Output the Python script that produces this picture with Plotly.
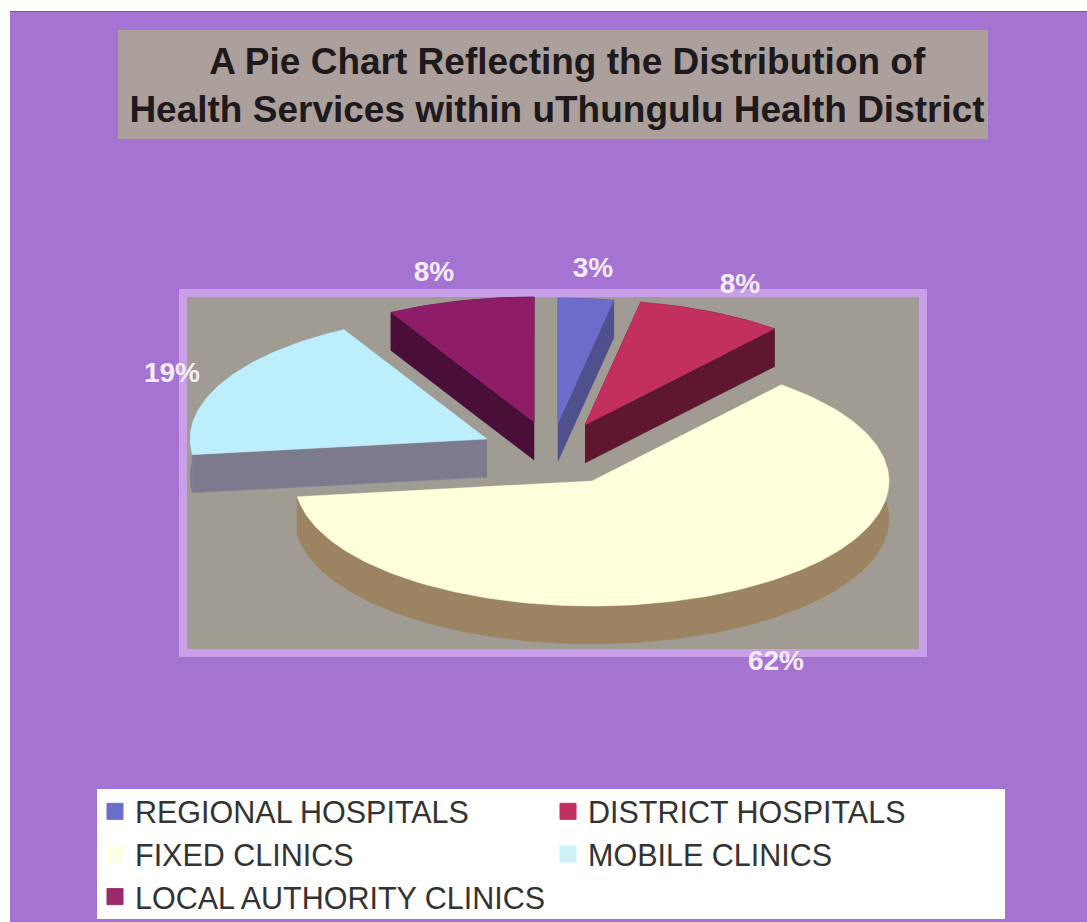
from __future__ import annotations

import numpy as np
import plotly.graph_objects as go

# data
categories = ["REGIONAL HOSPITALS", "DISTRICT HOSPITALS", "FIXED CLINICS", "MOBILE CLINICS", "LOCAL AUTHORITY CLINICS"]
values = [3, 8, 62, 19, 8]

# look of each slice
top_colors = ["#6C6CCB", "#C4305E", "#FFFFDC", "#BDEEFB", "#8E1C68"]
side_colors = ["#50508F", "#5F1730", "#9C8463", "#7E7A8E", "#4A0F38"]
legend_colors = ["#6C6CCB", "#C4305E", "#FFFFE6", "#CDF3F8", "#9A2A68"]

# tilted pie geometry, axes run in page pixels
apex_x = [558, 585, 592, 487, 534]
apex_y = [423, 425, 481, 439, 422]
label_x = [593, 740, 776, 172, 434]
label_y = [270, 286, 663, 375, 274]
radius_x = 297
radius_y = 125
depth = 38


def polygon_trace(xs, ys, color):
    return go.Scatter(
        x=xs, y=ys, mode="lines", fill="toself", fillcolor=color,
        line=dict(color=color, width=0.5), hoverinfo="skip", showlegend=False,
    )


fig = go.Figure()

start = 0.0
for i, value in enumerate(values):
    # angles run clockwise from the top of the ellipse
    end = start + value / sum(values) * 2 * np.pi
    t = np.linspace(start, end, max(int(value * 3), 6))
    rim_x = apex_x[i] + radius_x * np.sin(t)
    rim_y = apex_y[i] - radius_y * np.cos(t)

    for k in (0, -1):
        fig.add_trace(polygon_trace(
            [apex_x[i], rim_x[k], rim_x[k], apex_x[i]],
            [apex_y[i], rim_y[k], rim_y[k] + depth, apex_y[i] + depth],
            side_colors[i],
        ))
    fig.add_trace(polygon_trace(
        np.concatenate([rim_x, rim_x[::-1]]),
        np.concatenate([rim_y, rim_y[::-1] + depth]),
        side_colors[i],
    ))
    fig.add_trace(polygon_trace(
        np.concatenate([[apex_x[i]], rim_x, [apex_x[i]]]),
        np.concatenate([[apex_y[i]], rim_y, [apex_y[i]]]),
        top_colors[i],
    ))
    start = end

fig.add_trace(go.Scatter(
    x=label_x, y=label_y, mode="text", text=[f"{v}%" for v in values],
    textfont=dict(family="Liberation Sans", size=28, color="#F4ECF8", weight="bold"),
    hoverinfo="skip", showlegend=False,
))

for name, color in zip(categories, legend_colors):
    fig.add_trace(go.Scatter(
        x=[None], y=[None], mode="markers", name=name,
        marker=dict(symbol="square", size=16, color=color, line=dict(color=color, width=1)),
    ))

fig.update_layout(
    width=1087,
    height=922,
    margin=dict(l=10, r=0, t=11, b=0, autoexpand=False),
    paper_bgcolor="white",
    plot_bgcolor="#A574D2",
    xaxis=dict(range=[10, 1087], visible=False, fixedrange=True),
    yaxis=dict(range=[922, 11], visible=False, fixedrange=True),
    title=dict(
        text="&#160;&#160;A Pie Chart Reflecting the Distribution of<br>Health Services within uThungulu Health District",
        x=557 / 1087, xanchor="center", y=1 - 74 / 922, yanchor="middle",
        font=dict(family="Liberation Sans", size=37, color="#1E1A1C", weight="bold"),
    ),
    legend=dict(
        orientation="h", x=85 / 1077, xanchor="left", y=1 - 774 / 911, yanchor="top",
        entrywidth=408, entrywidthmode="pixels", bgcolor="rgba(0,0,0,0)", itemsizing="trace",
        font=dict(family="Liberation Sans", size=30.5, color="#333333"),
    ),
    shapes=[
        dict(type="rect", layer="below", xref="x", yref="y", x0=118, x1=988, y0=30, y1=139,
             fillcolor="#ACA09C", line_width=0),
        dict(type="rect", layer="below", xref="x", yref="y", x0=183, x1=923, y0=293, y1=653,
             fillcolor="#A09C94", line=dict(color="#C9A0E8", width=8)),
        dict(type="rect", layer="below", xref="x", yref="y", x0=97, x1=1005, y0=789, y1=919,
             fillcolor="white", line_width=0),
        dict(type="line", layer="below", xref="x", yref="y", x0=10, x1=1087, y0=11.5, y1=11.5,
             line=dict(color="#6E6470", width=1)),
    ],
)

fig.write_html("out.html", config={"displayModeBar": False}, post_script="document.body.style.margin='0';")
